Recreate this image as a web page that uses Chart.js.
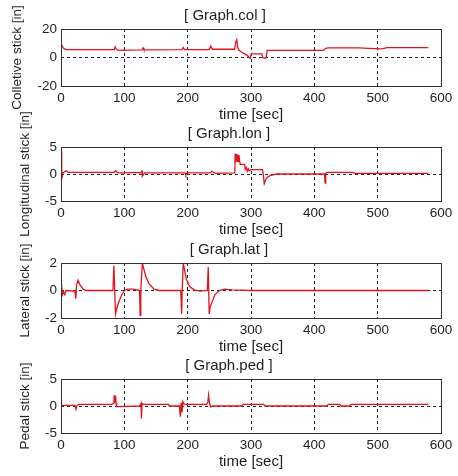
<!DOCTYPE html>
<html>
<head>
<meta charset="utf-8">
<script src="https://cdn.jsdelivr.net/npm/chart.js@4.4.1/dist/chart.umd.min.js"></script>
<style>
  html, body { margin: 0; padding: 0; background: #fff; }
  #wrap { position: relative; width: 458px; height: 476px; }
  #wrap canvas { position: absolute; left: 0; top: 0; }
</style>
</head>
<body>
<div id="wrap">
  <canvas id="colChart" width="458" height="476"></canvas>
  <canvas id="lonChart" width="458" height="476"></canvas>
  <canvas id="latChart" width="458" height="476"></canvas>
  <canvas id="pedChart" width="458" height="476"></canvas>
</div>
<script>
// time axis ticks (sec)
const xTicks = [0, 100, 200, 300, 400, 500, 600];

// Collective stick [in]
const colTicks = [-20, 0, 20];
const colTime = [0, 1.5, 4, 8, 84, 85.5, 87, 90, 128, 129.5, 131, 191, 193, 195, 234, 236.5, 239,
    274, 276, 277.5, 279, 281, 286, 290, 294, 297, 299, 300.5, 317, 319, 322, 324,
    325.5, 414, 418, 422, 470, 495, 502, 508, 515, 580];
const colValue = [8, 8.5, 6.5, 5.5, 5.5, 7.5, 6, 5, 5.3, 6.8, 5.3, 5.5, 7, 5.5, 5.6, 8, 5.8,
    5.8, 11, 12.5, 7, 5, 3.5, 2.5, 1.5, 0, -0.5, 2.5, 2.5, -0.2, -0.5, 0,
    5, 5, 6.5, 6.8, 6.8, 6.2, 6, 6.3, 7, 7];

// Longitudinal stick [in]
const lonTicks = [-5, 0, 5];
const lonTime = [0, 0.7, 1.5, 3, 8, 12, 84, 86, 90, 100, 127.5, 128, 128.5, 132, 196, 197, 199,
    236, 238, 244, 274.5, 275, 276, 277, 278, 279, 280, 281, 282, 283,
    290, 291, 292.5, 294, 295.5, 297, 300, 318, 319, 321, 324, 330, 340,
    416, 417, 418, 420, 460, 465, 580];
const lonValue = [0, 4.2, -1, 0.2, 0.6, 0.3, 0.3, 0.6, 0.2, 0.2, 0.3, 0.7, -0.4, 0.2, 0.2, -0.2, 0.2,
    0.2, 0.5, 0.1, 0.2, 3.8, 2.2, 3.7, 2.4, 3.6, 2.3, 3.5, 2.5, 1.8,
    1.8, 0.9, 1.2, 0.5, 1.0, 0.6, 0.8, 0.8, 0.2, -1.8, -0.8, -0.3, 0,
    0, -1.7, 0.1, 0.3, 0.3, 0.1, 0.1];

// Lateral stick [in]
const latTicks = [-2, 0, 2];
const latTime = [0, 1, 2.5, 4, 6, 8, 22, 23.5, 24.5, 27, 30, 35, 40,
    82, 83.5, 84.5, 86, 87.5, 90, 95, 100, 105, 115,
    124, 125, 126, 128.5, 130, 134, 139, 147, 155,
    189, 190.5, 191.5, 193, 198, 203, 210, 220,
    231, 232.5, 234, 235.5, 238, 243, 250, 258, 270, 300, 580];
const latValue = [0.5, 0.3, -0.3, -0.1, -0.3, 0, -0.05, -0.6, 0.4, 0.75, 0.4, 0.1, 0,
    0, 1.8, 0.5, -1.7, -1.4, -1.0, -0.4, 0, 0.1, 0.1,
    0, -1.8, 0, 2, 1.7, 1.0, 0.5, 0.1, 0,
    0, -1.7, 0.2, 2, 0.8, 0.3, 0.05, -0.05,
    0, 1.7, -1.7, -1.2, -0.9, -0.3, 0, 0.1, 0.05, 0, 0];

// Pedal stick [in]
const pedTicks = [-5, 0, 5];
const pedTime = [0, 22, 23.5, 25, 28, 80, 83.5, 84, 85, 85.5, 86, 86.5, 87, 88,
    124, 126.5, 127, 128, 130, 170, 171, 187, 188.5, 189.5, 191, 192.5, 194, 196,
    230, 232, 233, 234.5, 236.5, 239, 285, 288, 320, 322,
    420, 422, 440, 442, 456, 458, 580];
const pedValue = [0.1, 0.1, -0.6, 0, 0.3, 0.3, 0.5, 2, 0.6, 1.9, 0.6, 1.8, 0.5, -0.1,
    0, 0.5, -2.3, 0.5, 0.3, 0.3, 0, 0, -2, 0.6, -1.2, 0.8, 0.4, 0.3,
    0.3, 0.8, 2, 0.5, -0.2, 0, 0, 0.3, 0.3, 0,
    0, 0.3, 0.3, 0, 0, 0.3, 0.3];

const fontFamily = "'Liberation Sans', Arial, sans-serif";
const textColor = "#1e1e1e";
const lineRed = "rgb(225, 18, 28)";
const gridColor = "#222";

// solid box around the plot area (matlab style)
const framePlugin = {
    id: "frame",
    afterDraw(chart) {
        const { ctx, chartArea: a } = chart;
        ctx.save();
        ctx.strokeStyle = "#333";
        ctx.lineWidth = 1;
        ctx.strokeRect(Math.round(a.left) + 0.5, Math.round(a.top) + 0.5,
            Math.round(a.right - a.left), Math.round(a.bottom - a.top));
        ctx.restore();
    },
};

function createPanel(p) {
    const ctx = document.getElementById(p.id).getContext("2d");
    const points = p.time.map((t, i) => ({ x: t, y: p.value[i] }));
    const yLeft = p.yTitleX - 8.1;

    new Chart(ctx, {
        type: "line",
        data: {
            datasets: [{
                data: points,
                borderColor: lineRed,
                borderWidth: 1.3,
                pointRadius: 0,
                tension: 0,
                fill: false,
            }],
        },
        options: {
            responsive: false,
            animation: false,
            events: [],
            layout: {
                padding: { top: p.top - 22, bottom: 476 - p.bottom - 38, left: yLeft, right: 17 },
            },
            plugins: {
                legend: { display: false },
                tooltip: { enabled: false },
                title: {
                    display: true,
                    text: p.title,
                    color: textColor,
                    font: { family: fontFamily, size: 15, weight: "normal" },
                    padding: { top: 0, bottom: 4 },
                },
            },
            scales: {
                x: {
                    type: "linear",
                    min: xTicks[0],
                    max: xTicks[xTicks.length - 1],
                    afterBuildTicks: s => { s.ticks = xTicks.map(v => ({ value: v })); },
                    afterFit: s => { s.height = 38; },
                    grid: { color: gridColor, drawTicks: false },
                    border: { display: false, dash: [3, 3] },
                    ticks: { padding: 4, color: textColor, font: { family: fontFamily, size: 13.5 } },
                    title: {
                        display: true,
                        text: "time [sec]",
                        color: textColor,
                        font: { family: fontFamily, size: 15 },
                        padding: 0,
                    },
                },
                y: {
                    min: p.ticks[0],
                    max: p.ticks[p.ticks.length - 1],
                    afterBuildTicks: s => { s.ticks = p.ticks.map(v => ({ value: v })); },
                    afterFit: s => { s.width = 61 - yLeft; },
                    grid: { color: gridColor, drawTicks: false },
                    border: { display: false, dash: [3, 3] },
                    ticks: { padding: 4, color: textColor, font: { family: fontFamily, size: 13.5 } },
                    title: {
                        display: true,
                        text: p.yLabel,
                        color: textColor,
                        font: { family: fontFamily, size: 13.5 },
                        padding: 0,
                    },
                },
            },
        },
        plugins: [framePlugin],
    });
}

createPanel({ id: "colChart", title: "[ Graph.col ]", yLabel: "Colletive stick [in]",
    time: colTime, value: colValue, ticks: colTicks, top: 29, bottom: 86, yTitleX: 17 });
createPanel({ id: "lonChart", title: "[ Graph.lon ]", yLabel: "Longitudinal stick [in]",
    time: lonTime, value: lonValue, ticks: lonTicks, top: 147, bottom: 201, yTitleX: 25 });
createPanel({ id: "latChart", title: "[ Graph.lat ]", yLabel: "Lateral stick [in]",
    time: latTime, value: latValue, ticks: latTicks, top: 263, bottom: 318, yTitleX: 25 });
createPanel({ id: "pedChart", title: "[ Graph.ped ]", yLabel: "Pedal stick [in]",
    time: pedTime, value: pedValue, ticks: pedTicks, top: 379, bottom: 433, yTitleX: 25 });
</script>
</body>
</html>
